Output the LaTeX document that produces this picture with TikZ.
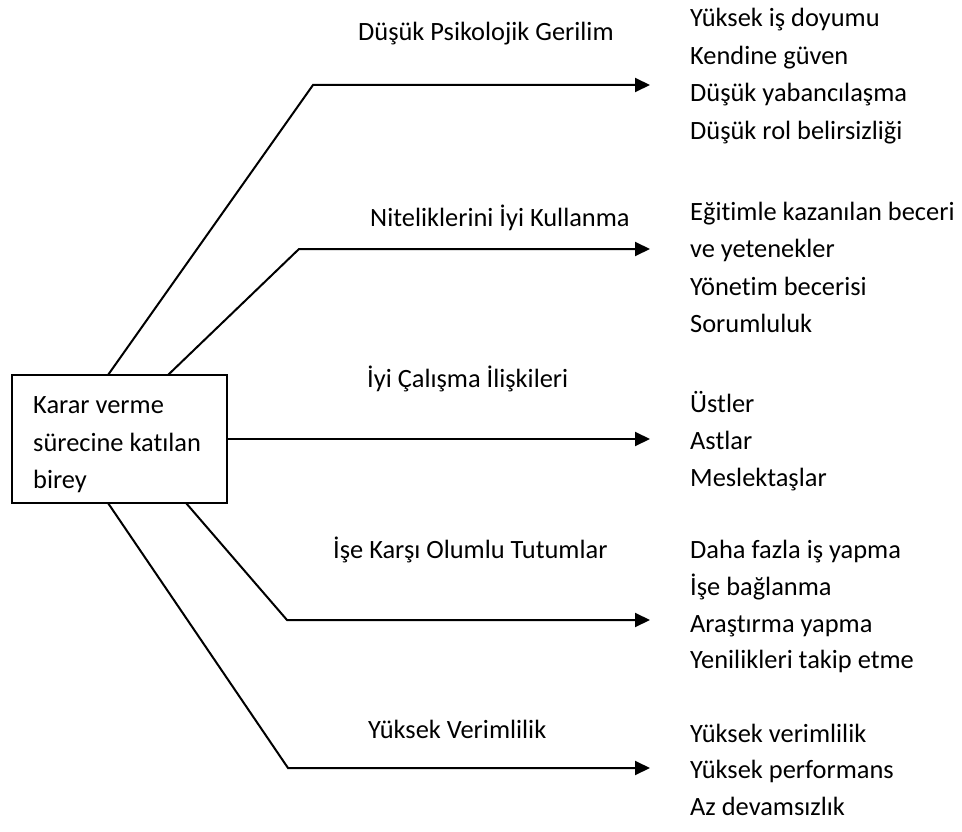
\documentclass[tikz,border=0pt]{standalone}
\usepackage{fontspec}
\setmainfont{Carlito}[Ligatures=NoCommon]
\usetikzlibrary{arrows.meta}
\begin{document}
\begin{tikzpicture}[x=1pt,y=-1pt,
  lbl/.style={anchor=base west,inner sep=0pt,font=\fontsize{26.4}{32}\selectfont},
  conn/.style={line width=2pt,-{Triangle[length=15pt,width=14pt]}},
  mainbox/.style={draw,line width=2pt,minimum width=215pt,minimum height=128pt,inner sep=0pt}]
\useasboundingbox (0,0) rectangle (962,832);
% central box
\node[mainbox] (box) at (119.5,439) {};
\node[lbl] (b1) at (33,413) {Karar verme};
\node[lbl] (b2) at (33,451) {sürecine katılan};
\node[lbl] (b3) at (33,488) {birey};
% connector points
\coordinate (s1) at (108,375);
\coordinate (c1) at (313,85);
\coordinate (t1) at (650,85);
\coordinate (s2) at (168,375);
\coordinate (c2) at (299,249);
\coordinate (t2) at (650,249);
\coordinate (s3) at (box.east);
\coordinate (t3) at (650,439);
\coordinate (s4) at (186,503);
\coordinate (c4) at (287,620);
\coordinate (t4) at (650,620);
\coordinate (s5) at (108,503);
\coordinate (c5) at (288,768);
\coordinate (t5) at (650,768);
\draw[conn] (s1) -- (c1) -- (t1);
\draw[conn] (s2) -- (c2) -- (t2);
\draw[conn] (s3) -- (t3);
\draw[conn] (s4) -- (c4) -- (t4);
\draw[conn] (s5) -- (c5) -- (t5);
% branch labels
\node[lbl] (l1) at (358,41) {Düşük Psikolojik Gerilim};
\node[lbl] (l2) at (370,226) {Niteliklerini İyi Kullanma};
\node[lbl] (l3) at (367,387) {İyi Çalışma İlişkileri};
\node[lbl] (l4) at (333,558) {İşe Karşı Olumlu Tutumlar};
\node[lbl] (l5) at (368,738) {Yüksek Verimlilik};
% outcome lists
\node[lbl] (r1a) at (690,27) {Yüksek iş doyumu};
\node[lbl] (r1b) at (690,65) {Kendine güven};
\node[lbl] (r1c) at (690,102) {Düşük yabancılaşma};
\node[lbl] (r1d) at (690,140) {Düşük rol belirsizliği};
\node[lbl] (r2a) at (690,221) {Eğitimle kazanılan beceri};
\node[lbl] (r2b) at (690,258) {ve yetenekler};
\node[lbl] (r2c) at (690,295) {Yönetim becerisi};
\node[lbl] (r2d) at (690,332) {Sorumluluk};
\node[lbl] (r3a) at (690,412) {Üstler};
\node[lbl] (r3b) at (690,449) {Astlar};
\node[lbl] (r3c) at (690,486) {Meslektaşlar};
\node[lbl] (r4a) at (690,558) {Daha fazla iş yapma};
\node[lbl] (r4b) at (690,595) {İşe bağlanma};
\node[lbl] (r4c) at (690,632) {Araştırma yapma};
\node[lbl] (r4d) at (690,668) {Yenilikleri takip etme};
\node[lbl] (r5a) at (690,742) {Yüksek verimlilik};
\node[lbl] (r5b) at (690,778) {Yüksek performans};
\node[lbl] (r5c) at (690,815) {Az devamsızlık};
\end{tikzpicture}
\end{document}
